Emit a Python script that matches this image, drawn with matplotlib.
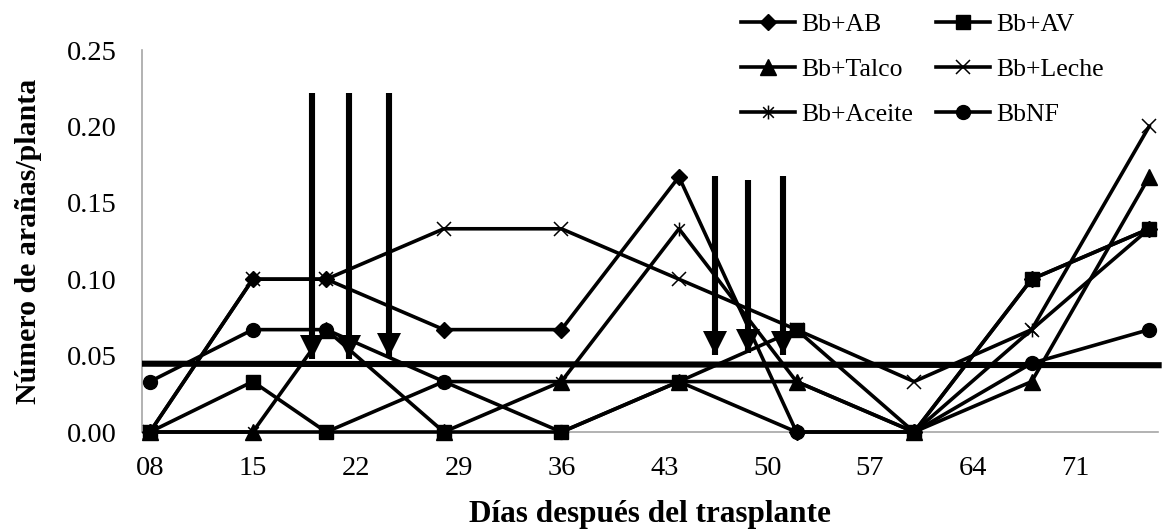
import matplotlib.pyplot as plt
from matplotlib.path import Path
from matplotlib.transforms import offset_copy

plt.rcParams['font.family'] = ['Liberation Serif', 'DejaVu Serif']

# sampling days after transplant
dias = [8, 15, 20, 28, 36, 44, 52, 60, 68, 76]

bb_ab = [0, 0.1, 0.1, 0.067, 0.067, 0.167, 0, 0, 0.1, 0.133]
bb_av = [0, 0.033, 0, 0, 0, 0.033, 0.067, 0, 0.1, 0.133]
bb_talco = [0, 0, 0.067, 0, 0.033, 0.033, 0.033, 0, 0.033, 0.167]
bb_leche = [0, 0.1, 0.1, 0.133, 0.133, 0.1, 0.067, 0.033, 0.067, 0.2]
bb_aceite = [0, 0, 0, 0.033, 0.033, 0.133, 0.033, 0, 0.067, 0.133]
bb_nf = [0.033, 0.067, 0.067, 0.033, 0, 0.033, 0, 0, 0.045, 0.067]

tick_dias = [8, 15, 22, 29, 36, 43, 50, 57, 64, 71]
tick_labels = ['08', '15', '22', '29', '36', '43', '50', '57', '64', '71']

# threshold line (start, end)
umbral_x = [7.46, 76.85]
umbral_y = [0.0447, 0.0437]

# application arrows: x position, top and tip
flecha_x = [19.0, 21.57, 24.28, 46.44, 48.68, 51.06]
flecha_top = [0.222, 0.222, 0.222, 0.1675, 0.165, 0.1675]
flecha_tip = [0.0476, 0.0476, 0.049, 0.0502, 0.0515, 0.0502]

# asterisk marker: an x with a vertical bar
asterisco = Path([(-1, -1), (1, 1), (-1, 1), (1, -1), (0, -1.3), (0, 1.3)],
                 [Path.MOVETO, Path.LINETO, Path.MOVETO, Path.LINETO,
                  Path.MOVETO, Path.LINETO])

fig = plt.figure(figsize=(11.62, 5.29), dpi=100)
ax = fig.add_axes([142 / 1162, 1 - 432 / 529, 1016 / 1162, 382 / 529])

lw = 2.6
series = [
    ('Bb+AB', bb_ab, dict(marker='D', ms=8.5)),
    ('Bb+AV', bb_av, dict(marker='s', ms=10)),
    ('Bb+Talco', bb_talco, dict(marker='^', ms=11)),
    ('Bb+Leche', bb_leche, dict(marker='x', ms=10, mew=1.1)),
    ('Bb+Aceite', bb_aceite, dict(marker=asterisco, ms=10, mew=1.1)),
    ('BbNF', bb_nf, dict(marker='o', ms=10)),
]
lines = {}
for name, vals, style in series:
    ln, = ax.plot(dias, vals, color='black', lw=lw, mfc='black', mec='black',
                  clip_on=False, label=name, zorder=3, **style)
    lines[name] = ln

ax.plot(umbral_x, umbral_y, color='black', lw=4.4, clip_on=False, zorder=4,
        solid_capstyle='butt')

# arrows: thick shaft plus a sharp triangular head whose tip sits on the point
head_trans = offset_copy(ax.transData, fig=fig, x=0, y=12, units='dots')
for x, top, tip in zip(flecha_x, flecha_top, flecha_tip):
    ax.plot([x, x], [top, tip], color='black', lw=4.4, solid_capstyle='butt',
            zorder=5)
    ax.plot([x], [tip], marker='v', ms=17.5, mew=0, color='black',
            transform=head_trans, zorder=5)

ax.set_xlim(7.46, 76.6)
ax.set_ylim(0, 0.25)
ax.set_xticks(tick_dias)
ax.set_xticklabels(tick_labels)
ax.set_yticks([0, 0.05, 0.10, 0.15, 0.20, 0.25])
ax.set_yticklabels(['0.00', '0.05', '0.10', '0.15', '0.20', '0.25'])
ax.tick_params(axis='both', length=0, labelsize=20.5)
ax.tick_params(axis='y', pad=18)
ax.tick_params(axis='x', pad=17)
for side in ['top', 'right']:
    ax.spines[side].set_visible(False)
for side in ['left', 'bottom']:
    ax.spines[side].set_color('#a6a6a6')
    ax.spines[side].set_linewidth(1.2)

ax.set_xlabel('Días después del trasplante', fontsize=22.5, fontweight='bold',
              labelpad=14)
ax.set_ylabel('Número de arañas/planta', fontsize=21.5, fontweight='bold',
              labelpad=18)

orden = ['Bb+AB', 'Bb+Talco', 'Bb+Aceite', 'Bb+AV', 'Bb+Leche', 'BbNF']
ax.legend([lines[n] for n in orden], orden, ncol=2, loc='upper left',
          bbox_to_anchor=(741 / 1162, 0.975), bbox_transform=fig.transFigure,
          frameon=False, borderpad=0, borderaxespad=0, handlelength=2.1,
          handletextpad=0.25, columnspacing=0.9, labelspacing=0.85,
          fontsize=18.5)

fig.savefig('out.png', dpi=100)
